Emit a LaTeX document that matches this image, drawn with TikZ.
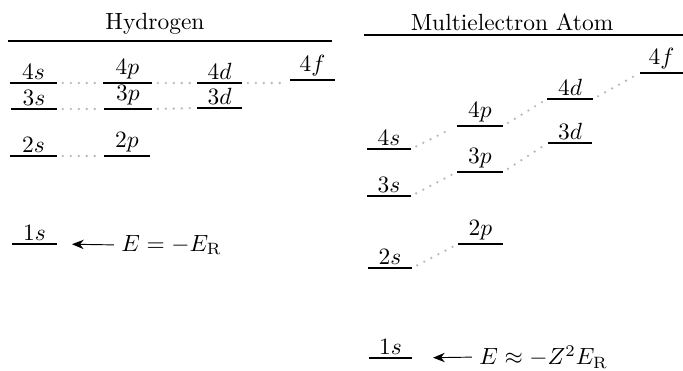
\documentclass[tikz,border=0pt]{standalone}
\usepackage{amsmath}
\usetikzlibrary{arrows.meta}

\tikzset{
  level/.style={semithick},
  orb/.style={above, inner sep=1.2pt},
  conn/.style={gray!55, line width=1.1pt, line cap=round, dash pattern=on 0pt off 3.4pt,
               shorten <=2.5pt, shorten >=2.5pt},
  title/.style={font=\normalsize},
  toE/.style={thin, -{Stealth[length=5pt,width=4pt]}, shorten <=3pt},
}

% \enlevel{name}{x left}{x right}{y}{label}
\newcommand{\enlevel}[5]{%
  \coordinate (#1-l) at (#2,#4);
  \coordinate (#1-r) at (#3,#4);
  \draw[level] (#1-l) -- (#1-r) node[orb, midway] (#1) {$#5$};
}

\begin{document}
\begin{tikzpicture}[x=0.015cm, y=-0.015cm]
  \useasboundingbox (0,0) rectangle (683,370);

  % Hydrogen
  \node[title] (Htitle) at (155,24) {Hydrogen};
  \draw[semithick] (8,41) -- (332,41);

  \enlevel{H4s}{10}{57}{83}{4s}
  \enlevel{H3s}{11}{57}{109}{3s}
  \enlevel{H4p}{103}{152}{83}{4p}
  \enlevel{H3p}{104}{152}{109}{3p}
  \enlevel{H4d}{197}{242}{83}{4d}
  \enlevel{H3d}{197}{242}{108}{3d}
  \enlevel{H4f}{290}{335}{80}{4f}
  \enlevel{H2s}{10}{57}{156}{2s}
  \enlevel{H2p}{104}{150}{156}{2p}
  \enlevel{H1s}{12}{57}{244}{1s}

  \draw[conn] (H4s-r) -- (H4p-l);
  \draw[conn] (H3s-r) -- (H3p-l);
  \draw[conn] (H4p-r) -- (H4d-l);
  \draw[conn] (H3p-r) -- (H3d-l);
  \draw[conn] (H4d-r) -- (H4f-l |- H4d-r);
  \draw[conn] (H2s-r) -- (H2p-l);

  \node[anchor=west, inner sep=0pt] (HE) at (121,245) {$E = -E_{\mathrm{R}}$};
  \draw[toE, shorten >=6.4pt] (HE.west) -- (H1s-r);

  % Multielectron atom
  \node[title] (Mtitle) at (512,22) {Multielectron Atom};
  \draw[semithick] (364,35) -- (683,35);

  \enlevel{M4f}{640}{683}{73}{4f}
  \enlevel{M4d}{547}{593}{99}{4d}
  \enlevel{M4p}{457}{503}{126}{4p}
  \enlevel{M3d}{548}{592}{143}{3d}
  \enlevel{M4s}{367}{411}{149}{4s}
  \enlevel{M3p}{457}{503}{172}{3p}
  \enlevel{M3s}{367}{411}{196}{3s}
  \enlevel{M2p}{458}{503}{244}{2p}
  \enlevel{M2s}{368}{412}{268}{2s}
  \enlevel{M1s}{369}{412}{358}{1s}

  \draw[conn] (M4s-r) -- (M4p-l);
  \draw[conn] (M3s-r) -- (M3p-l);
  \draw[conn] (M2s-r) -- (M2p-l);
  \draw[conn] (M4p-r) -- (M4d-l);
  \draw[conn] (M3p-r) -- (M3d-l);
  \draw[conn] (M4d-r) -- (M4f-l);

  \node[anchor=west, inner sep=0pt] (ME) at (479,357) {$E \approx -Z^2E_{\mathrm{R}}$};
  \draw[toE, shorten >=9pt] (ME.west) -- (M1s-r);
\end{tikzpicture}
\end{document}
